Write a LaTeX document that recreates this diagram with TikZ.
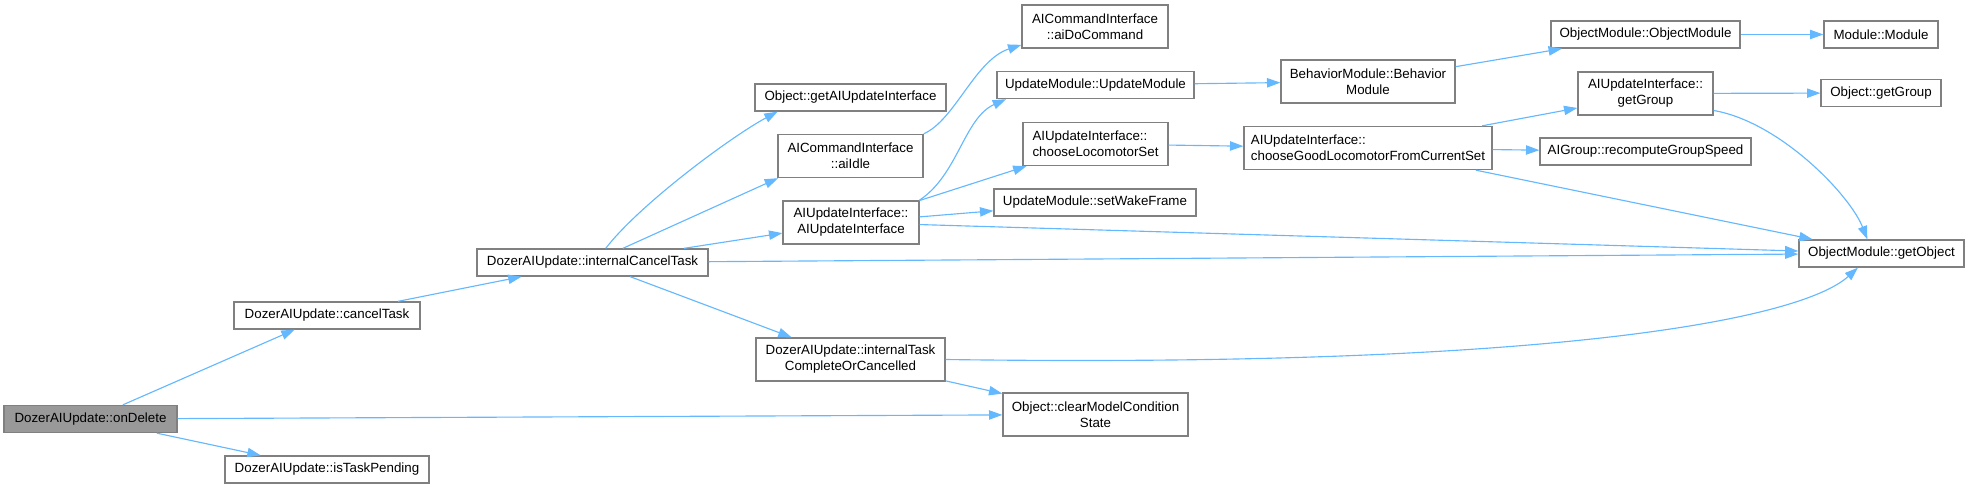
\documentclass[tikz,border=0pt]{standalone}
\usepackage{fontspec}
\setmainfont{Liberation Sans}
\usepackage{xcolor}
\usepackage{tikz}
\usetikzlibrary{arrows.meta, positioning}

\definecolor{edgeblue}{HTML}{63B8FF}
\definecolor{nodeborder}{HTML}{808080}
\definecolor{rootfill}{HTML}{999999}

\begin{document}
\begin{tikzpicture}[
    x=0.75pt, y=-0.75pt,
    fn/.style={rectangle, draw=nodeborder, fill=white, line width=1pt, minimum height=20.25pt, inner sep=2pt, align=center, font=\fontsize{10}{12}\selectfont},
    fntwo/.style={fn, minimum height=32.25pt},
    root/.style={fn, fill=rootfill},
    call/.style={-{Triangle[length=10pt, width=7pt]}, draw=edgeblue, line width=0.85pt},
]
    \useasboundingbox (0,0) rectangle (1969,488);

    % Root
    \node[root, minimum width=129.75pt] (ondel) at (90.5,419) {DozerAIUpdate::onDelete};

    % First callees
    \node[fn, minimum width=139.5pt] (cancel) at (327,315.5) {DozerAIUpdate::cancelTask};
    \node[fn, minimum width=153pt] (pending) at (327,469.5) {DozerAIUpdate::isTaskPending};
    \node[fn, minimum width=173.25pt] (icancel) at (592.5,262.5) {DozerAIUpdate::internalCancelTask};

    % Middle column
    \node[fn, minimum width=143.25pt] (getaiui) at (850.5,97.5) {Object::getAIUpdateInterface};
    \node[fntwo, minimum width=108.75pt] (aiidle) at (850.5,156) {AICommandInterface\\::aiIdle};
    \node[fntwo, minimum width=102pt] (aiuictor) at (851,222.5) {AIUpdateInterface::\\AIUpdateInterface};
    \node[fntwo, minimum width=141.75pt] (itaskdone) at (850.5,359.5) {DozerAIUpdate::internalTask\\CompleteOrCancelled};

    \node[fntwo, minimum width=109.5pt] (aidocmd) at (1095,26.5) {AICommandInterface\\::aiDoCommand};
    \node[fn, minimum width=147.75pt] (updmod) at (1095.5,85) {UpdateModule::UpdateModule};
    \node[fntwo, minimum width=108.75pt, align=left] (chooseloco) at (1095.5,144) {AIUpdateInterface::\\chooseLocomotorSet};
    \node[fn, minimum width=151.5pt] (wakeframe) at (1095,202.5) {UpdateModule::setWakeFrame};
    \node[fntwo, minimum width=138.75pt] (clearmcs) at (1095.5,414.5) {Object::clearModelCondition\\State};

    % Right side
    \node[fntwo, minimum width=130.5pt] (behmod) at (1368,81.5) {BehaviorModule::Behavior\\Module};
    \node[fntwo, minimum width=186pt, align=left] (choosegood) at (1368,148) {AIUpdateInterface::\\chooseGoodLocomotorFromCurrentSet};

    \node[fn, minimum width=141.75pt] (objmod) at (1645.5,34.5) {ObjectModule::ObjectModule};
    \node[fntwo, minimum width=101.25pt] (aiugetgrp) at (1645.5,93.5) {AIUpdateInterface::\\getGroup};
    \node[fn, minimum width=158.25pt] (recompute) at (1645.5,151.5) {AIGroup::recomputeGroupSpeed};

    \node[fn, minimum width=85.5pt] (module) at (1881,34.5) {Module::Module};
    \node[fn, minimum width=90pt] (objgetgrp) at (1881,93) {Object::getGroup};
    \node[fn, minimum width=123.75pt] (getobj) at (1881.5,253.5) {ObjectModule::getObject};

    % Calls
    \draw[call] (ondel) -- (cancel);
    \draw[call] (ondel) -- (clearmcs);
    \draw[call] (ondel) -- (pending);
    \draw[call] (cancel) -- (icancel);

    \draw[call] (icancel.47) .. controls (640,204) and (732,136) .. (getaiui.191);
    \draw[call] (icancel.25) -- (aiidle.197);
    \draw[call] (icancel) -- (aiuictor);
    \draw[call] (icancel) -- (getobj);
    \draw[call] (icancel) -- (itaskdone);

    \draw[call] (aiidle.north east) .. controls (955,120) and (975,60) .. (aidocmd.194);
    \draw[call] (aiuictor.18) .. controls (958,175) and (964,118) .. (updmod.189);
    \draw[call] (aiuictor) -- (chooseloco);
    \draw[call] (aiuictor) -- (wakeframe);
    \draw[call] (aiuictor) -- (getobj);

    \draw[call] (itaskdone.east) .. controls (1550,368) and (1800,320) .. (getobj.211);
    \draw[call] (itaskdone) -- (clearmcs);

    \draw[call] (updmod) -- (behmod);
    \draw[call] (chooseloco) -- (choosegood);
    \draw[call] (behmod) -- (objmod);
    \draw[call] (objmod) -- (module);

    \draw[call] (choosegood.11) -- (aiugetgrp.192);
    \draw[call] (choosegood) -- (recompute);
    \draw[call] (choosegood) -- (getobj);

    \draw[call] (aiugetgrp) -- (objgetgrp);
    \draw[call] (aiugetgrp.-14) .. controls (1780,122) and (1850,195) .. (getobj.135);
\end{tikzpicture}
\end{document}
